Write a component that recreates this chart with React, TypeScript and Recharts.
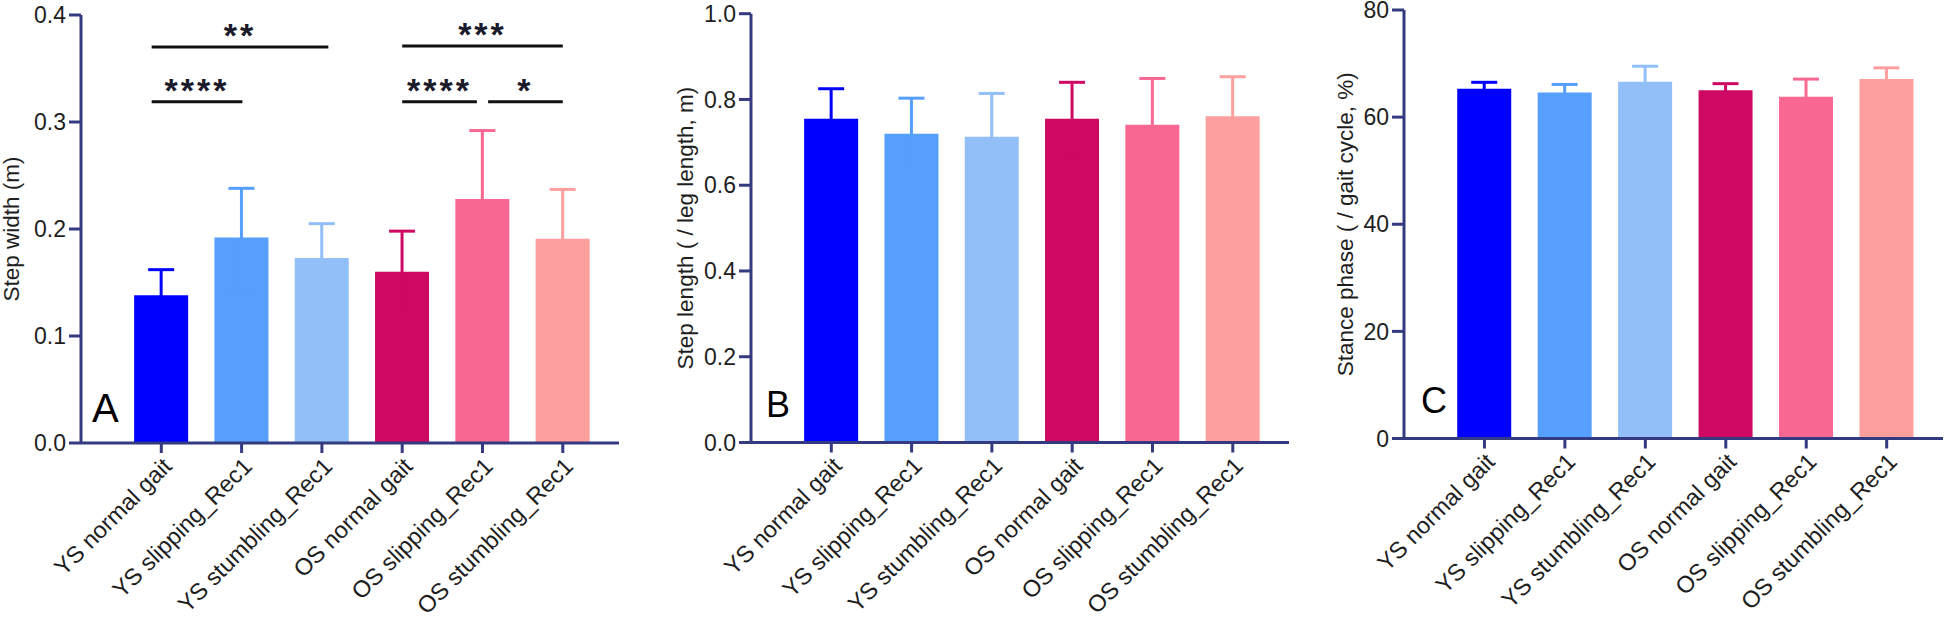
import React from "react";
import { BarChart, Bar, Cell, ErrorBar, XAxis, YAxis, ReferenceLine } from "recharts";

const groups = [
  "YS normal gait",
  "YS slipping_Rec1",
  "YS stumbling_Rec1",
  "OS normal gait",
  "OS slipping_Rec1",
  "OS stumbling_Rec1",
];
const barColors = ["#0000ff", "#569ffd", "#93bff9", "#cd0963", "#f96793", "#fe9f9f"];

const stepWidthMean = [0.138, 0.192, 0.173, 0.16, 0.228, 0.191];
const stepWidthSd = [0.024, 0.046, 0.032, 0.038, 0.064, 0.046];

const stepLengthMean = [0.755, 0.72, 0.713, 0.755, 0.741, 0.761];
const stepLengthSd = [0.07, 0.083, 0.101, 0.085, 0.108, 0.092];

const stanceMean = [65.3, 64.6, 66.6, 65.0, 63.8, 67.1];
const stanceSd = [1.2, 1.5, 2.9, 1.25, 3.3, 2.1];

const xTicks = [0, 1, 2, 3, 4, 5];

// significance brackets in panel A (x in group index units)
const sigBrackets = [
  { from: -0.12, to: 2.08, y: 0.37, label: "**" },
  { from: -0.12, to: 1.01, y: 0.319, label: "****" },
  { from: 3, to: 5, y: 0.371, label: "***" },
  { from: 3, to: 3.93, y: 0.319, label: "****" },
  { from: 4.07, to: 5, y: 0.319, label: "*" },
];

const axisColor = "#343a80";
const textColor = "#1e1e1e";
const font = '"Liberation Sans", Arial, sans-serif';

// mean +/- SD; the lower half is hidden inside the bar like in the original
const buildRows = (mean: number[], sd: number[]) =>
  groups.map((g, i) => {
    const row: Record<string, any> = { idx: i, group: g, mean: mean[i] };
    row[`err${i}`] = sd[i];
    return row;
  });

interface PanelProps {
  left: number;
  top: number;
  xAxisHeight: number;
  yAxisWidth: number;
  marginRight: number;
  data: Record<string, any>[];
  domain: [number, number];
  ticks: number[];
  decimals: number;
  yLabel: string;
  labelX: number;
  children?: React.ReactNode;
}

const Panel: React.FC<PanelProps> = ({
  left,
  top,
  xAxisHeight,
  yAxisWidth,
  marginRight,
  data,
  domain,
  ticks,
  decimals,
  yLabel,
  labelX,
  children,
}) => (
  <div style={{ position: "absolute", left, top: 0 }}>
    <BarChart
      width={648}
      height={624}
      data={data}
      margin={{ top, right: marginRight, bottom: 0, left: 0 }}
      style={{ fontFamily: font }}
    >
      <XAxis
        type="number"
        dataKey="idx"
        domain={[-1, 5.7]}
        allowDataOverflow
        ticks={xTicks}
        interval={0}
        tickFormatter={(v: number) => groups[v]}
        height={xAxisHeight}
        angle={-45}
        textAnchor="end"
        tickSize={10}
        tickMargin={3}
        stroke={axisColor}
        strokeWidth={3}
        tick={{ fontSize: 23.5, fill: textColor, fontFamily: font }}
        tickLine={{ stroke: axisColor, strokeWidth: 3 }}
        axisLine={{ stroke: axisColor, strokeWidth: 3 }}
      />
      <YAxis
        width={yAxisWidth}
        domain={domain}
        ticks={ticks}
        interval={0}
        allowDataOverflow
        tickFormatter={(v: number) => v.toFixed(decimals)}
        tickSize={12}
        tickMargin={3}
        tick={{ fontSize: 23, fill: textColor, fontFamily: font }}
        tickLine={{ stroke: axisColor, strokeWidth: 3 }}
        axisLine={{ stroke: axisColor, strokeWidth: 3 }}
        label={{
          value: yLabel,
          angle: -90,
          position: "insideLeft",
          offset: labelX,
          style: { textAnchor: "middle", fontSize: 22.5, fill: textColor, fontFamily: font },
        }}
      />
      <Bar dataKey="mean" barSize={54} isAnimationActive={false}>
        {data.map((_, i) => (
          <Cell key={i} fill={barColors[i]} />
        ))}
        {barColors.map((c, i) => (
          <ErrorBar
            key={i}
            dataKey={`err${i}`}
            direction="y"
            width={13}
            stroke={c}
            strokeWidth={3}
            isAnimationActive={false}
          />
        ))}
      </Bar>
      {children}
    </BarChart>
  </div>
);

const App: React.FC = () => {
  const widthRows = buildRows(stepWidthMean, stepWidthSd);
  const lengthRows = buildRows(stepLengthMean, stepLengthSd);
  const stanceRows = buildRows(stanceMean, stanceSd);

  return (
    <div
      style={{
        position: "absolute",
        left: 0,
        top: 0,
        width: 1944,
        height: 624,
        background: "#fff",
        fontFamily: font,
      }}
    >
      <Panel
        left={0}
        top={15}
        xAxisHeight={181}
        yAxisWidth={81}
        marginRight={29}
        data={widthRows}
        domain={[0, 0.4]}
        ticks={[0, 0.1, 0.2, 0.3, 0.4]}
        decimals={1}
        yLabel="Step width (m)"
        labelX={11}
      >
        {sigBrackets.map((b, i) => (
          <ReferenceLine
            key={i}
            segment={[
              { x: b.from, y: b.y },
              { x: b.to, y: b.y },
            ]}
            stroke="#111"
            strokeWidth={3}
            label={{
              value: b.label,
              position: "top",
              offset: 0,
              fontSize: 34,
              fontWeight: 700,
              fill: "#1a1a2a",
              letterSpacing: 3,
              fontFamily: font,
            }}
          />
        ))}
      </Panel>
      <Panel
        left={648}
        top={13.7}
        xAxisHeight={181.5}
        yAxisWidth={103}
        marginRight={7}
        data={lengthRows}
        domain={[0, 1]}
        ticks={[0, 0.2, 0.4, 0.6, 0.8, 1]}
        decimals={1}
        yLabel="Step length ( / leg length, m)"
        labelX={37}
      />
      <Panel
        left={1296}
        top={10}
        xAxisHeight={185.5}
        yAxisWidth={108}
        marginRight={1}
        data={stanceRows}
        domain={[0, 80]}
        ticks={[0, 20, 40, 60, 80]}
        decimals={0}
        yLabel="Stance phase ( / gait cycle, %)"
        labelX={49}
      />
      <svg
        width={1944}
        height={624}
        style={{ position: "absolute", left: 0, top: 0, pointerEvents: "none" }}
      >
        <text x={92} y={422} fontSize={40} fill="#000" fontFamily={font}>A</text>
        <text x={766} y={417} fontSize={36} fill="#000" fontFamily={font}>B</text>
        <text x={1421} y={413} fontSize={36} fill="#000" fontFamily={font}>C</text>
      </svg>
    </div>
  );
};

export default App;
